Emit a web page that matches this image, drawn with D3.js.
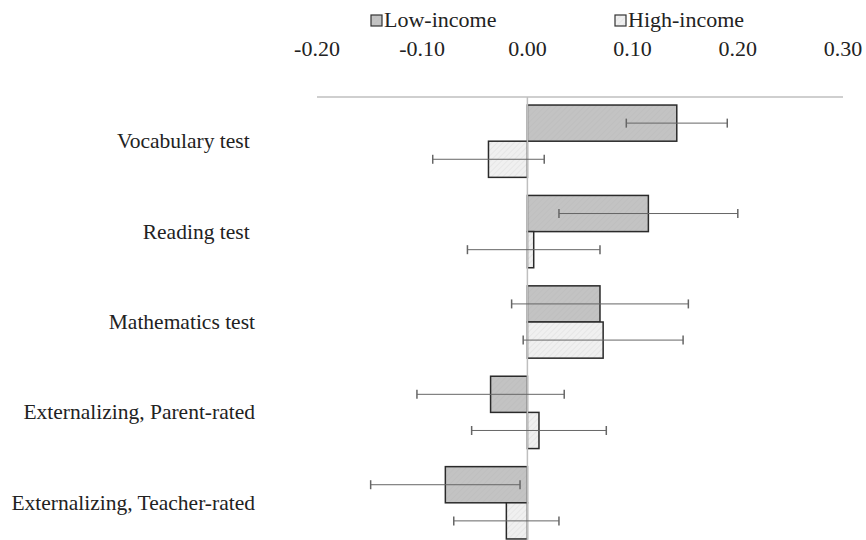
<!DOCTYPE html>
<html lang="en">
    <head>
        <meta charset="utf-8">
        <title>Income groups</title>
        <script type="text/javascript" src="https://cdn.jsdelivr.net/npm/d3@7/dist/d3.min.js"></script>
        <style>
            body { margin: 0; background: #fff; }
        </style>
    </head>
    <body>
        <script type="text/javascript">

            var categories = ["Vocabulary test\u00a0", "Reading test\u00a0", "Mathematics test", "Externalizing, Parent-rated", "Externalizing, Teacher-rated"];
            var series = ["Low-income", "High-income"];
            var lowIncome = [0.142, 0.115, 0.069, -0.035, -0.078];
            var highIncome = [-0.037, 0.006, 0.072, 0.011, -0.020];
            var lowErr = [0.048, 0.085, 0.084, 0.070, 0.071];
            var highErr = [0.053, 0.063, 0.076, 0.064, 0.050];
            var ticks = [-0.20, -0.10, 0.00, 0.10, 0.20, 0.30];

            var w = 866;
            var h = 540;
            var font = "'Times New Roman', Tinos, 'Liberation Serif', 'DejaVu Serif', serif";

            var svg = d3.select("body")
                .append("svg")
                .attr("width", w)
                .attr("height", h)
                .style("font-family", font);

            // hatch patterns
            var defs = svg.append("defs");
            function hatch(id, bg, line) {
                var p = defs.append("pattern")
                    .attr("id", id)
                    .attr("patternUnits", "userSpaceOnUse")
                    .attr("width", 4).attr("height", 4)
                    .attr("patternTransform", "rotate(45)");
                p.append("rect").attr("width", 4).attr("height", 4).attr("fill", bg);
                p.append("line").attr("x1", 0).attr("y1", 0).attr("x2", 0).attr("y2", 4)
                    .attr("stroke", line).attr("stroke-width", 1);
            }
            hatch("hLow", "#c3c3c3", "#bcbcbc");
            hatch("hHigh", "#f0f0f0", "#dcdcdc");
            var fills = ["url(#hLow)", "url(#hHigh)"];

            var x = d3.scaleLinear().domain([-0.2, 0.3]).range([317, 843]);
            var y = d3.scaleBand().domain(categories).range([96, 548]).paddingInner(0.2).paddingOuter(0.1);
            var yS = d3.scaleBand().domain(series).range([0, y.bandwidth()]);

            var rows = [];
            categories.forEach(function(c, i) {
                rows.push({ cat: c, s: series[0], v: lowIncome[i], e: lowErr[i], k: 0 });
                rows.push({ cat: c, s: series[1], v: highIncome[i], e: highErr[i], k: 1 });
            });

            // top axis
            svg.append("line")
                .attr("x1", x(-0.2)).attr("x2", x(0.3))
                .attr("y1", 97).attr("y2", 97)
                .attr("stroke", "#bfbfbf").attr("stroke-width", 1.5);

            svg.selectAll("text.tick")
                .data(ticks)
                .enter()
                .append("text")
                .attr("class", "tick")
                .attr("x", function(d) { return x(d); })
                .attr("y", 56)
                .attr("text-anchor", "middle")
                .attr("font-size", 22)
                .attr("fill", "#222")
                .text(function(d) { return d3.format(".2f")(d).replace("\u2212", "-"); });

            // bars
            svg.selectAll("rect.bar")
                .data(rows)
                .enter()
                .append("rect")
                .attr("class", "bar")
                .attr("x", function(d) { return x(Math.min(0, d.v)); })
                .attr("y", function(d) { return y(d.cat) + yS(d.s); })
                .attr("width", function(d) { return Math.abs(x(d.v) - x(0)); })
                .attr("height", yS.bandwidth())
                .attr("fill", function(d) { return fills[d.k]; })
                .attr("stroke", "#2a2a2a")
                .attr("stroke-width", 1.5);

            // zero line
            svg.append("line")
                .attr("x1", x(0)).attr("x2", x(0))
                .attr("y1", 97).attr("y2", h)
                .attr("stroke", "#bfbfbf").attr("stroke-width", 1.5);

            // error bars
            var eb = svg.selectAll("g.err")
                .data(rows)
                .enter()
                .append("g")
                .attr("class", "err")
                .attr("transform", function(d) { return "translate(0," + (y(d.cat) + yS(d.s) + yS.bandwidth() / 2) + ")"; });
            eb.append("line")
                .attr("x1", function(d) { return x(d.v - d.e); })
                .attr("x2", function(d) { return x(d.v + d.e); })
                .attr("stroke", "#666").attr("stroke-width", 1);
            eb.append("line")
                .attr("x1", function(d) { return x(d.v - d.e); })
                .attr("x2", function(d) { return x(d.v - d.e); })
                .attr("y1", -4.5).attr("y2", 4.5)
                .attr("stroke", "#666").attr("stroke-width", 1.5);
            eb.append("line")
                .attr("x1", function(d) { return x(d.v + d.e); })
                .attr("x2", function(d) { return x(d.v + d.e); })
                .attr("y1", -4.5).attr("y2", 4.5)
                .attr("stroke", "#666").attr("stroke-width", 1.5);

            // category labels
            svg.selectAll("text.cat")
                .data(categories)
                .enter()
                .append("text")
                .attr("class", "cat")
                .attr("x", 255)
                .attr("y", function(d) { return y(d) + y.bandwidth() / 2 + 7; })
                .attr("text-anchor", "end")
                .attr("font-size", 21.5)
                .attr("fill", "#222")
                .style("white-space", "pre")
                .text(function(d) { return d; });

            // legend
            var lg = svg.selectAll("g.legend")
                .data(series)
                .enter()
                .append("g")
                .attr("class", "legend")
                .attr("transform", function(d, i) { return "translate(" + [371, 615][i] + ",21)"; });
            lg.append("rect")
                .attr("x", 0).attr("y", -6)
                .attr("width", 11).attr("height", 11)
                .attr("fill", function(d, i) { return fills[i]; })
                .attr("stroke", "#333").attr("stroke-width", 1.2);
            lg.append("text")
                .attr("x", 13).attr("y", 6)
                .attr("font-size", 22)
                .attr("fill", "#222")
                .text(function(d) { return d; });

        </script>
    </body>
</html>
